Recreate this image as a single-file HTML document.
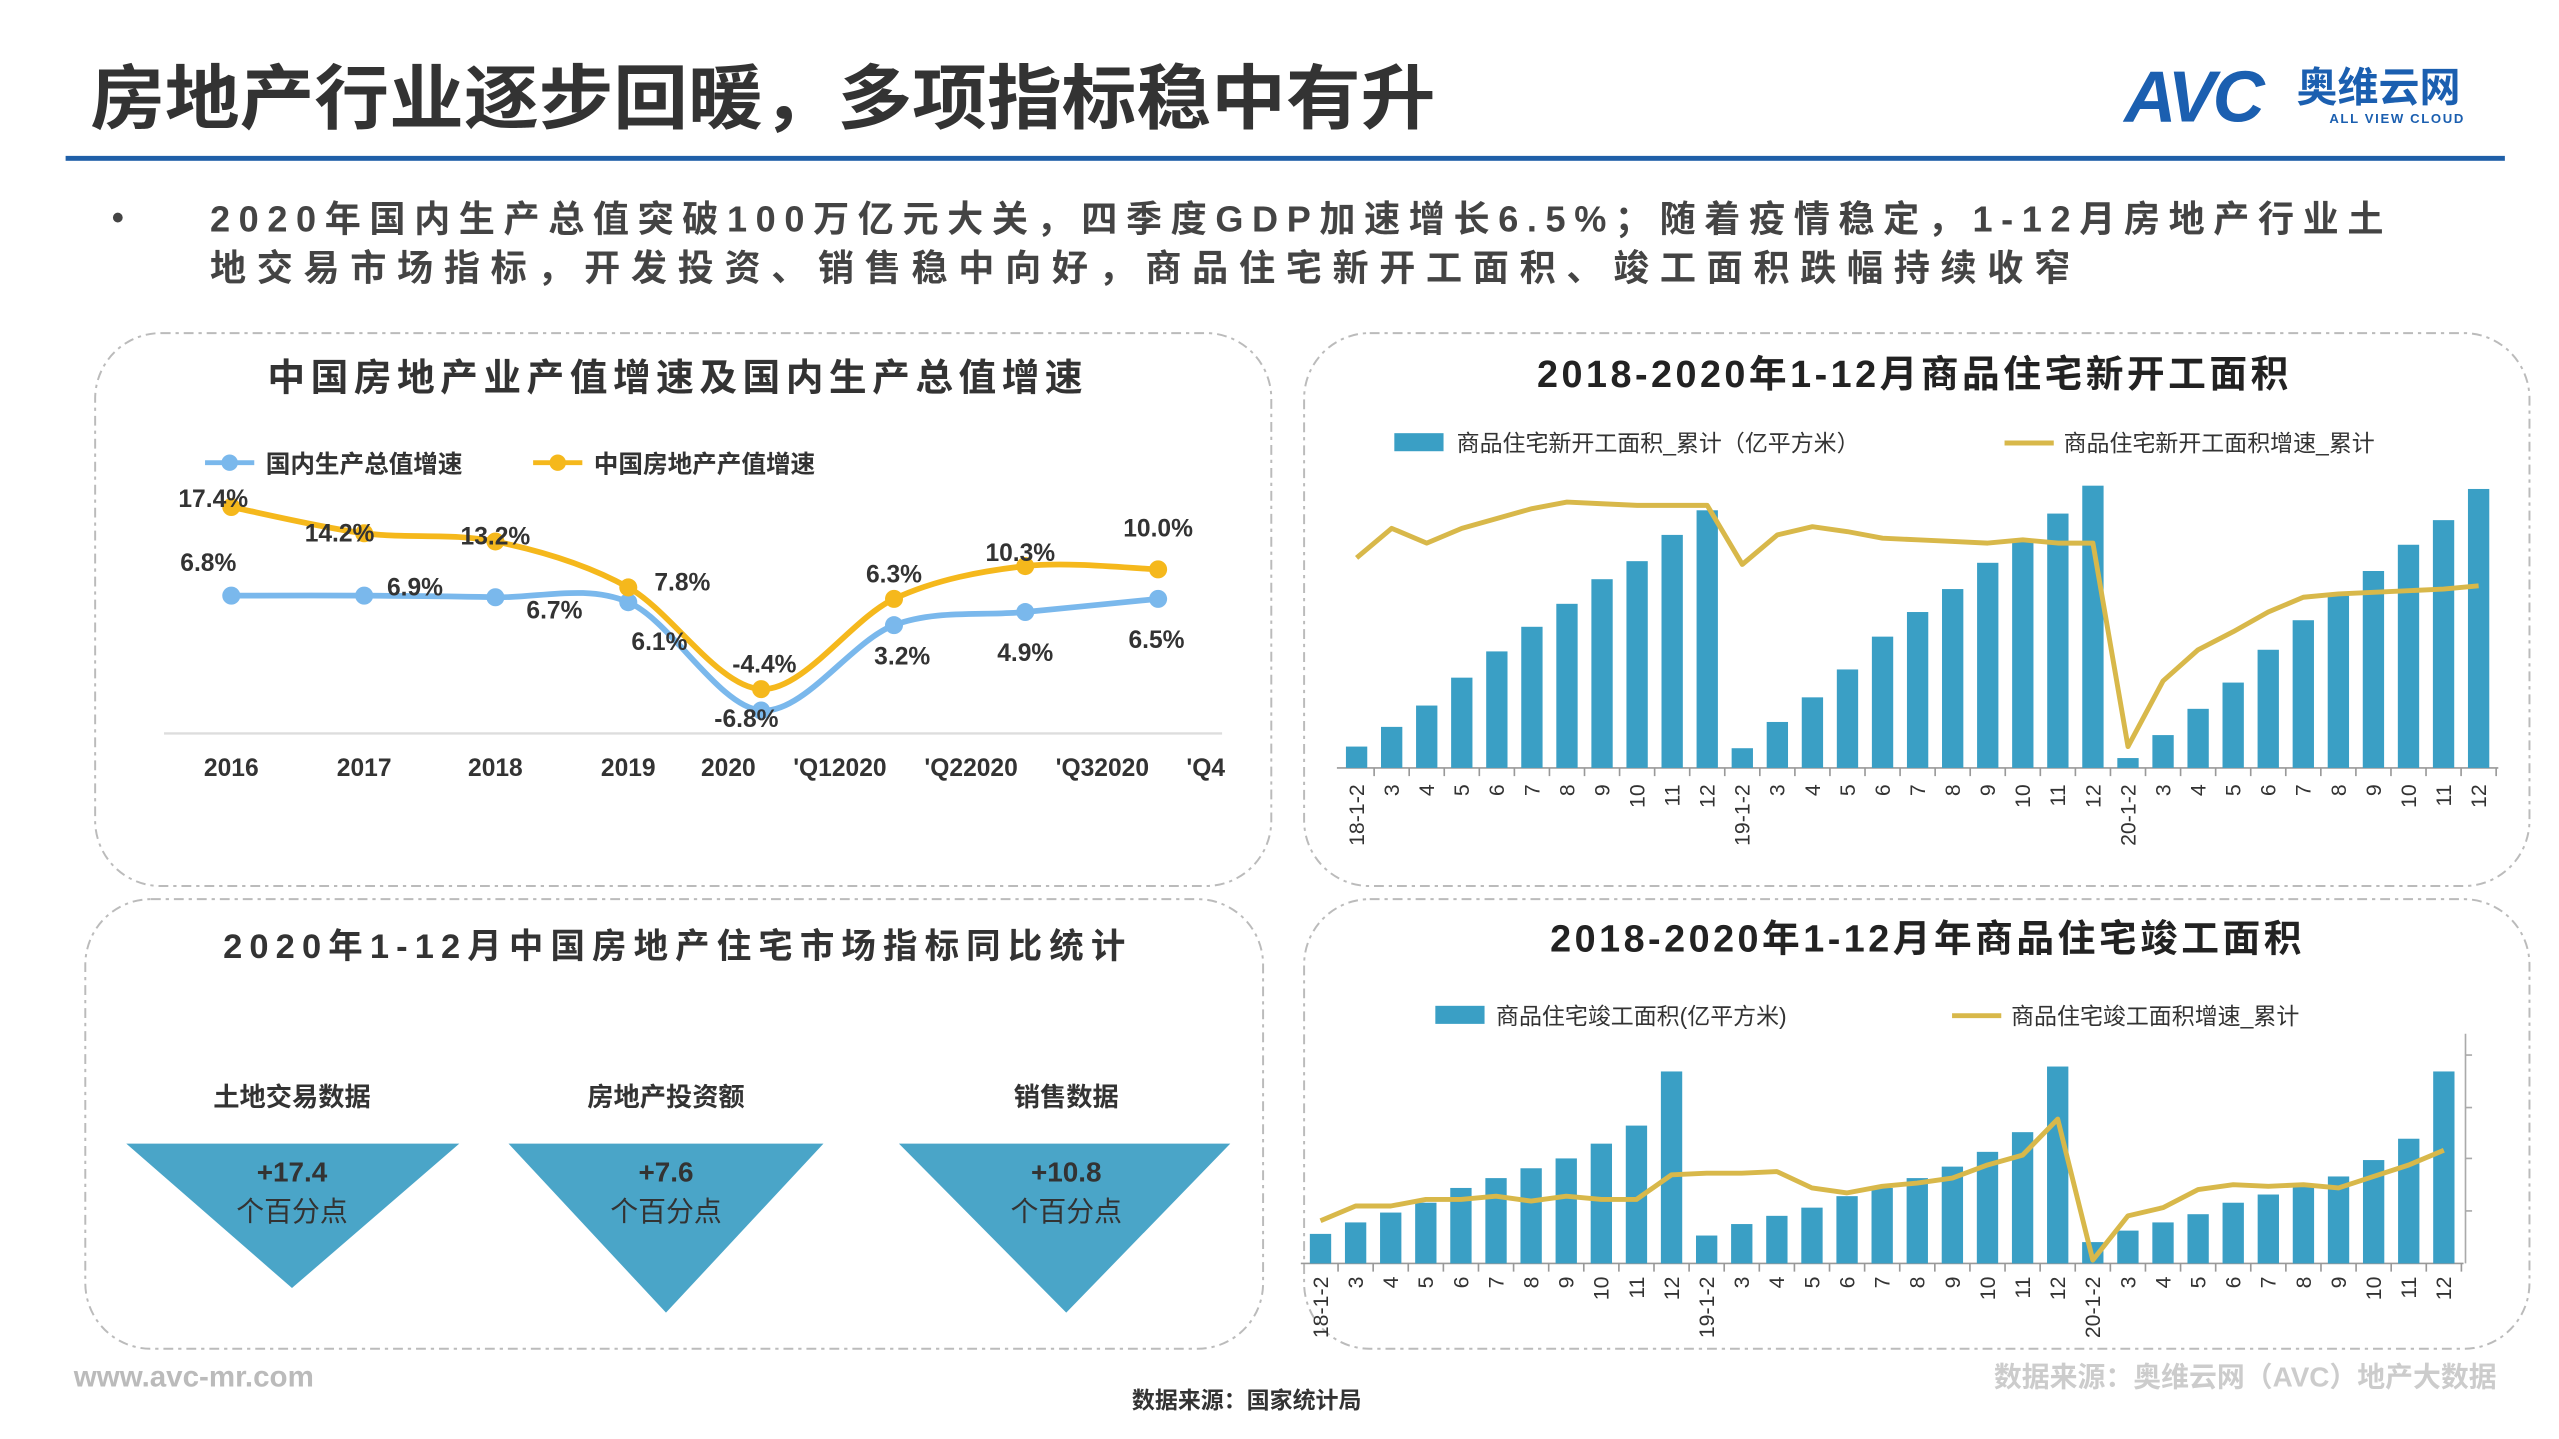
<!DOCTYPE html>
<html><head><meta charset="utf-8"><style>
html,body{margin:0;padding:0;background:#fff;}
svg{display:block;}
text{font-family:"Liberation Sans","Noto Sans CJK SC",sans-serif;}
</style></head><body>
<svg id="s" width="2559" height="1439" viewBox="0 0 1560 877" preserveAspectRatio="none" xmlns="http://www.w3.org/2000/svg">
<rect width="1560" height="877" fill="#fff"/>
<text x="55" y="75" font-size="43" font-weight="bold" fill="#333" textLength="820" lengthAdjust="spacingAndGlyphs">房地产行业逐步回暖，多项指标稳中有升</text>
<text x="1295" y="74" font-size="44" font-weight="bold" fill="#1b5fb0" font-style="italic" letter-spacing="-2">AVC</text>
<text x="1400" y="62" font-size="25" font-weight="bold" fill="#1b5fb0">奥维云网</text>
<text x="1420" y="75" font-size="8" font-weight="bold" fill="#1b5fb0" letter-spacing="1">ALL VIEW CLOUD</text>
<rect x="40" y="95" width="1487" height="3" fill="#1f5fa8"/>
<text x="68" y="140" font-size="22" fill="#444">•</text>
<text x="128" y="141" font-size="22" font-weight="bold" fill="#444" textLength="1325" lengthAdjust="spacing">2020年国内生产总值突破100万亿元大关，四季度GDP加速增长6.5%；随着疫情稳定，1-12月房地产行业土</text>
<text x="128" y="171" font-size="22" font-weight="bold" fill="#444" textLength="1134" lengthAdjust="spacing">地交易市场指标，开发投资、销售稳中向好，商品住宅新开工面积、竣工面积跌幅持续收窄</text>
<g fill="none" stroke="#bbb" stroke-width="1.2" stroke-dasharray="6,3,2,3">
<rect x="58" y="203" width="717" height="337" rx="40"/>
<rect x="795" y="203" width="747" height="337" rx="40"/>
<rect x="52" y="548" width="718" height="274" rx="40"/>
<rect x="795" y="548" width="747" height="274" rx="40"/>
</g>
<text x="163" y="238" font-size="23" font-weight="bold" fill="#333" textLength="497" lengthAdjust="spacing">中国房地产业产值增速及国内生产总值增速</text>
<line x1="125" y1="282" x2="155" y2="282" stroke="#7ab8ec" stroke-width="3"/><circle cx="140" cy="282" r="5" fill="#7ab8ec"/>
<text x="162" y="288" font-size="15" font-weight="bold" fill="#333">国内生产总值增速</text>
<line x1="325" y1="282" x2="355" y2="282" stroke="#f5b81c" stroke-width="3"/><circle cx="340" cy="282" r="5" fill="#f5b81c"/>
<text x="362" y="288" font-size="15" font-weight="bold" fill="#333">中国房地产产值增速</text>
<line x1="100" y1="447" x2="745" y2="447" stroke="#ddd" stroke-width="1.5"/>
<g id="l1"></g>
<g font-size="15" font-weight="bold" fill="#333" text-anchor="middle">
<text x="141" y="473">2016</text><text x="222" y="473">2017</text><text x="302" y="473">2018</text><text x="383" y="473">2019</text><text x="444" y="473">2020</text><text x="512" y="473">'Q12020</text><text x="592" y="473">'Q22020</text><text x="672" y="473">'Q32020</text><text x="735" y="473">'Q4</text>
<text x="130" y="309">17.4%</text><text x="207" y="330">14.2%</text><text x="302" y="332">13.2%</text><text x="416" y="360">7.8%</text><text x="466" y="410">-4.4%</text><text x="545" y="355">6.3%</text><text x="622" y="342">10.3%</text><text x="706" y="327">10.0%</text>
<text x="127" y="348">6.8%</text><text x="253" y="363">6.9%</text><text x="338" y="377">6.7%</text><text x="402" y="396">6.1%</text><text x="455" y="443">-6.8%</text><text x="550" y="405">3.2%</text><text x="625" y="403">4.9%</text><text x="705" y="395">6.5%</text>
</g>
<text x="937" y="236" font-size="23" font-weight="bold" fill="#222" textLength="458" lengthAdjust="spacing">2018-2020年1-12月商品住宅新开工面积</text>
<rect x="850" y="264" width="30" height="11" fill="#3a9fc5"/>
<text x="888" y="275" font-size="14" fill="#333">商品住宅新开工面积_累计（亿平方米）</text>
<line x1="1222" y1="270" x2="1252" y2="270" stroke="#d8b84a" stroke-width="3"/>
<text x="1258" y="275" font-size="14" fill="#333">商品住宅新开工面积增速_累计</text>
<g id="c2"></g>
<text x="945" y="580" font-size="23" font-weight="bold" fill="#222" textLength="458" lengthAdjust="spacing">2018-2020年1-12月年商品住宅竣工面积</text>
<rect x="875" y="613" width="30" height="11" fill="#3a9fc5"/>
<text x="912" y="624" font-size="14" fill="#333">商品住宅竣工面积(亿平方米)</text>
<line x1="1190" y1="619" x2="1220" y2="619" stroke="#d8b84a" stroke-width="3"/>
<text x="1226" y="624" font-size="14" fill="#333">商品住宅竣工面积增速_累计</text>
<line x1="1503" y1="630" x2="1503" y2="770" stroke="#aaa" stroke-width="1"/>
<g stroke="#aaa"><line x1="1503" y1="643" x2="1507" y2="643"/><line x1="1503" y1="675" x2="1507" y2="675"/><line x1="1503" y1="706" x2="1507" y2="706"/><line x1="1503" y1="738" x2="1507" y2="738"/></g>
<g id="c4"></g>
<text x="136" y="584" font-size="21" font-weight="bold" fill="#333" textLength="550" lengthAdjust="spacing">2020年1-12月中国房地产住宅市场指标同比统计</text>
<g font-size="16" font-weight="bold" fill="#333" text-anchor="middle">
<text x="178" y="674">土地交易数据</text><text x="406" y="674">房地产投资额</text><text x="650" y="674">销售数据</text></g>
<polygon points="77,697 280,697 178,785" fill="#4aa5c8"/>
<polygon points="310,697 502,697 406,800" fill="#4aa5c8"/>
<polygon points="548,697 750,697 650,800" fill="#4aa5c8"/>
<g font-size="17" fill="#333" text-anchor="middle">
<text x="178" y="720" font-weight="bold">+17.4</text><text x="178" y="744">个百分点</text>
<text x="406" y="720" font-weight="bold">+7.6</text><text x="406" y="744">个百分点</text>
<text x="650" y="720" font-weight="bold">+10.8</text><text x="650" y="744">个百分点</text></g>
<text x="45" y="845" font-size="18" font-weight="bold" fill="#bbb">www.avc-mr.com</text>
<text x="760" y="858" font-size="14" font-weight="bold" fill="#333" text-anchor="middle">数据来源：国家统计局</text>
<text x="1522" y="845" font-size="17" font-weight="bold" fill="#ccc" text-anchor="end">数据来源：奥维云网（AVC）地产大数据</text>
</svg>
<script>
var NS="http://www.w3.org/2000/svg";
function el(p,t,a,txt){var e=document.createElementNS(NS,t);for(var k in a)e.setAttribute(k,a[k]);if(txt!=null)e.textContent=txt;p.appendChild(e);return e;}
function smooth(pts){var d="M"+pts[0][0]+","+pts[0][1];for(var i=0;i<pts.length-1;i++){var p0=pts[i-1]||pts[i],p1=pts[i],p2=pts[i+1],p3=pts[i+2]||p2;var t=0.16;d+=" C"+(p1[0]+(p2[0]-p0[0])*t)+","+(p1[1]+(p2[1]-p0[1])*t)+" "+(p2[0]-(p3[0]-p1[0])*t)+","+(p2[1]-(p3[1]-p1[1])*t)+" "+p2[0]+","+p2[1];}return d;}
var xs=[141,222,302,383,464,545,625,706];
var b=[363,363,364,367,433,381,373,365], o=[309,325,330,358,420,365,345,347];
var g=document.getElementById("l1");
el(g,"path",{d:smooth(xs.map(function(x,i){return[x,b[i]]})),fill:"none",stroke:"#7ab8ec","stroke-width":3.5});
el(g,"path",{d:smooth(xs.map(function(x,i){return[x,o[i]]})),fill:"none",stroke:"#f5b81c","stroke-width":3.5});
xs.forEach(function(x,i){el(g,"circle",{cx:x,cy:b[i],r:5.5,fill:"#7ab8ec"});el(g,"circle",{cx:x,cy:o[i],r:5.5,fill:"#f5b81c"});});
function chart(id,x0,step,base,tops,line,labY){
 var g=document.getElementById(id);
 el(g,"line",{x1:x0-12,y1:base,x2:x0+step*32+12,y2:base,stroke:"#999","stroke-width":1});
 var pts=[];
 for(var i=0;i<33;i++){var x=x0+step*i;
  el(g,"rect",{x:x-6.5,y:tops[i],width:13,height:base-tops[i],fill:"#3a9fc5"});
  el(g,"line",{x1:x+step/2,y1:base,x2:x+step/2,y2:base+5,stroke:"#999"});
  pts.push(x+","+line[i]);
  var m=i%11+2, lab=(i%11==0)?(["18-1-","19-1-","20-1-"][i/11|0]+"2"):String(m);
  el(g,"text",{x:0,y:0,"font-size":13,fill:"#333","text-anchor":"end",transform:"translate("+(x+4.5)+","+labY+") rotate(-90)"},lab);
 }
 el(g,"polyline",{points:pts.join(" "),fill:"none",stroke:"#d8b84a","stroke-width":3,"stroke-linejoin":"round"});
}
chart("c2",827,21.375,468,
[455,443,430,413,397,382,368,353,342,326,311,456,440,425,408,388,373,359,343,329,313,296,462,448,432,416,396,378,363,348,332,317,298],
[340,322,331,322,316,310,306,307,308,308,308,344,326,321,324,328,329,330,331,329,331,331,455,415,396,385,373,364,362,361,360,359,357],478);
chart("c4",805,21.4,770,
[752,745,739,733,724,718,712,706,697,686,653,753,746,741,736,729,724,718,711,702,690,650,757,750,745,740,733,728,723,717,707,694,653],
[744,735,735,731,731,729,732,729,731,731,716,715,715,714,724,727,723,721,718,710,704,682,768,741,736,725,722,723,722,724,717,710,701],778);
</script>
</body></html>
